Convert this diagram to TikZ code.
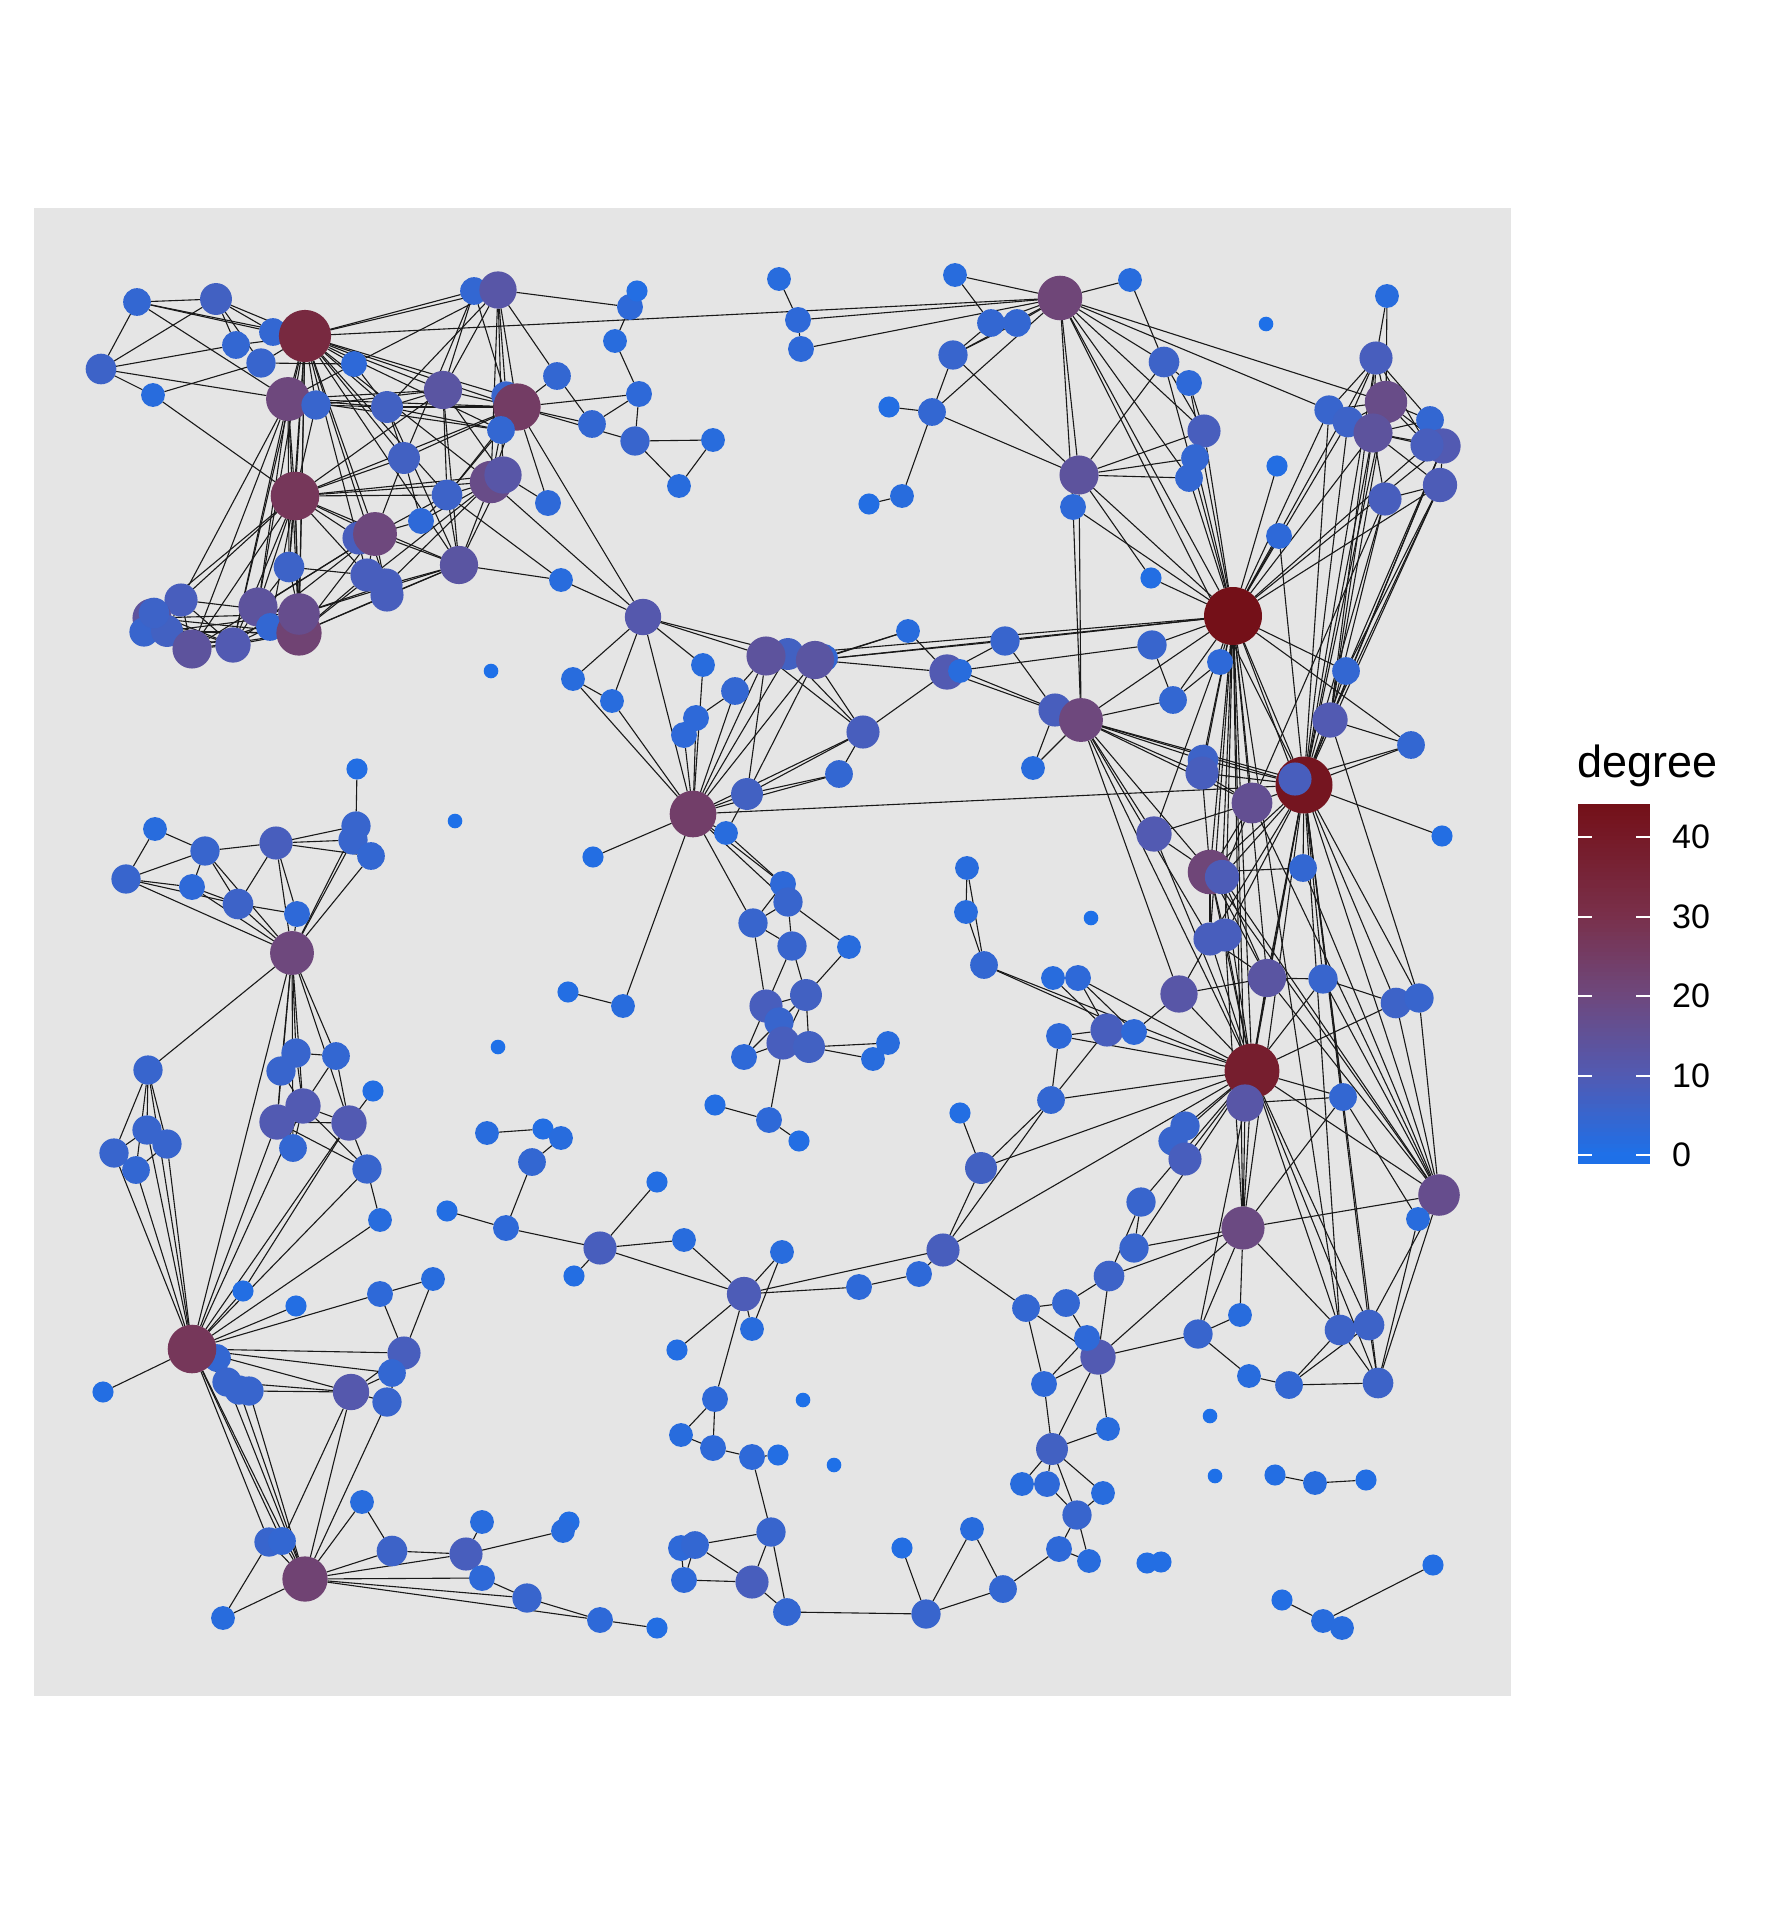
\documentclass[tikz,border=0pt]{standalone}
\usepackage{fontspec}
\setmainfont{Liberation Sans}
\pgfdeclarelayer{bg}
\pgfsetlayers{bg,main}
\definecolor{cz}{RGB}{30,112,232}
\definecolor{ca}{RGB}{82,90,178}
\definecolor{cb}{RGB}{110,72,125}
\definecolor{cc}{RGB}{121,48,75}
\definecolor{cd}{RGB}{116,16,24}
\definecolor{panel}{RGB}{229,229,229}
\newcommand\degcolor[1]{%
 \pgfmathsetmacro\dg{#1}%
 \ifdim\dg pt<10pt
   \pgfmathtruncatemacro\pc{max(0,10*\dg)}\colorlet{nc}{ca!\pc!cz}%
 \else\ifdim\dg pt<20pt
   \pgfmathtruncatemacro\pc{10*(\dg-10)}\colorlet{nc}{cb!\pc!ca}%
 \else\ifdim\dg pt<30pt
   \pgfmathtruncatemacro\pc{10*(\dg-20)}\colorlet{nc}{cc!\pc!cb}%
 \else
   \pgfmathtruncatemacro\pc{min(100,100*(\dg-30)/14)}\colorlet{nc}{cd!\pc!cc}%
 \fi\fi\fi}
\tikzset{
 vtx/.style={circle,draw=none,inner sep=0pt,outer sep=0pt},
 edge/.style={draw=black!90,line width=1.1pt},
 tick/.style={draw=white,line width=1.6pt},
 lab/.style={anchor=west,inner sep=0pt,font=\fontsize{34}{40}\selectfont}
}
\begin{document}
\begin{tikzpicture}[x=1pt,y=-1pt]
\useasboundingbox (0,0) rectangle (1766,1916);
\begin{pgfonlayer}{bg}
\fill[white] (0,0) rectangle (1766,1916);
\fill[panel] (34,208) rectangle (1511,1696);
\end{pgfonlayer}
% nodes
\foreach \nm/\xx/\yy/\dd in {
a1/137/302/4,a2/216/299/7,a3/101/369/6,a4/153/395/2,a5/236/345/4,a6/273/332/4,a7/261/363/5,h1/305/336/33,a8/354/364/3,a9/288/399/20,a10/316/405/5,a11/387/407/7,a12/443/390/13,a13/474/291/4,a14/498/290/12,a16/506/396/5,a15/517/407/25,a17/501/430/4,a18/404/458/7,h2/295/496/27,a19/447/495/6,a20/421/521/3,a21/491/482/18,a22/503/475/12,a24/359/538/8,a23/375/534/20,a25/289/567/6,a26/367/575/8,a27/386/585/8,a28/387/595/8,a29/459/565/13,a30/181/600/8,a32/152/618/14,a33/144/632/5,a34/167/631/7,a31/154/613/6,a35/192/649/14,a36/233/645/10,a37/258/607/14,a38/270/627/4,a40/299/633/22,a39/299/614/17,a41/491/671/0,
b2/630/307/3,b1/637/291/1,b3/615/341/2,b4/557/376/4,b5/639/394/3,b6/592/424/4,b7/635/441/5,b8/713/440/2,b9/679/486/2,b10/548/503/3,b11/561/580/2,b12/643/617/11,b13/573/679/2,b14/612/701/2,b15/703/665/2,b16/735/691/4,b20/824/658/4,b18/788/654/7,b17/766/656/14,b19/815/660/13,b21/908/631/2,b22/1005/641/5,b23/947/672/10,b24/960/671/2,b25/779/279/2,b26/798/320/3,b27/801/349/3,b28/955/275/2,b29/991/323/4,b30/1017/323/4,b31/953/355/5,b32/889/407/1,b33/932/412/4,b34/902/496/2,b35/869/504/1,
c1/1060/298/21,c2/1130/280/2,c4/1266/324/0,c5/1164/362/6,c6/1189/383/3,c7/1204/431/8,c8/1195/458/4,c9/1189/478/4,c10/1079/475/14,c11/1073/507/3,c12/1277/466/1,c13/1387/296/2,c14/1376/358/8,c16/1329/410/5,c17/1348/422/6,c15/1386/402/18,c18/1373/433/14,c19/1430/420/4,c20/1443/446/10,c21/1427/445/8,c22/1440/485/9,c23/1385/499/8,c24/1279/536/3,c25/1151/578/1,h3/1233/616/44,c26/1152/645/5,c27/1220/662/3,c28/1346/671/4,c29/1173/700/4,
d1/1055/710/8,d2/1081/720/20,d4/1033/768/2,d5/1203/760/6,d6/1202/773/8,d7/1252/803/16,h4/1304/785/42,d8/1295/779/8,d9/1330/720/10,d10/1411/745/4,d11/1442/836/1,d12/1154/834/10,d13/1210/872/21,d14/1222/877/9,d15/1303/868/4,d16/1091/918/0,d17/1210/939/8,d18/1225/935/8,d19/1053/978/2,d20/1078/978/3,d21/1267/978/13,d22/1323/979/5,d23/1179/994/12,d24/1396/1003/6,d25/1419/998/5,d26/1059/1036/3,d27/1107/1030/8,d28/1134/1032/3,h5/1252/1071/38,d29/1245/1103/12,d30/1051/1100/4,d31/1343/1097/4,d32/1185/1126/5,d33/1173/1141/5,d34/1185/1159/8,d35/1141/1202/5,d36/1439/1195/17,d37/1243/1228/19,e3/1418/1219/2,
e5/1134/1248/5,e6/1109/1276/6,e7/1026/1308/4,e8/1066/1303/4,e10/1098/1357/10,e9/1087/1338/3,e11/1044/1384/3,e12/1108/1429/2,e13/1052/1449/7,e14/1022/1484/2,e15/1047/1484/3,e16/1103/1493/2,e17/1077/1515/5,e18/1059/1549/3,e19/1089/1561/2,e21/1198/1334/5,e22/1240/1315/2,e23/1249/1376/2,e24/1289/1385/4,e25/1340/1330/6,e26/1369/1325/6,e27/1378/1383/6,e28/1210/1416/0,e29/1215/1476/0,e30/1275/1475/1,e31/1315/1483/2,e32/1366/1480/1,e33/1147/1563/1,e33b/1161/1562/1,e34/1282/1600/1,e35/1323/1621/2,e36/1342/1628/2,e37/1433/1565/1,
i2/696/718/3,i3/684/735/3,i5/863/732/8,i6/839/774/4,i7/747/794/7,h9/693/814/24,i8/726/833/2,i9/593/857/1,i10/783/884/3,i11/788/902/5,i12/753/923/5,i13/792/946/5,i14/849/947/2,i15/568/992/1,i16/623/1006/2,i17/806/995/7,i18/766/1006/8,i19/779/1022/5,i22/744/1057/3,i20/783/1043/8,i21/809/1047/7,i23/888/1043/2,i24/873/1059/2,i25/715/1105/1,i26/769/1120/3,i27/799/1141/1,i28/967/868/2,i29/966/912/2,i30/984/965/4,i31/960/1113/1,i32/981/1168/7,i34/657/1182/1,
k1/357/769/1,k2/356/826/5,k3/353/840/5,k4/371/856/4,k5/455/821/0,k6/155/829/2,k7/205/851/5,k8/276/843/8,k9/126/879/5,k10/192/887/3,k11/238/904/6,k12/297/914/3,h8/292/953/20,k13/498/1047/0,k14/148/1070/5,k16/281/1071/5,k15/296/1053/5,k17/336/1056/4,k18/373/1091/1,k20/277/1122/10,k19/303/1106/10,k21/349/1123/10,k22/293/1148/4,k23/367/1169/5,k24/114/1153/5,k25/167/1144/5,k26/147/1130/5,k27/136/1170/4,k29/487/1133/2,k31/543/1129/1,k32/561/1138/2,k30/532/1162/4,
g1/380/1220/2,g2/447/1211/1,g3/506/1228/3,g13/217/1358/4,h6/192/1349/27,g4/103/1392/1,g5/243/1291/1,g6/296/1306/1,g7/380/1294/3,g8/433/1279/2,g9/404/1353/8,g10/392/1373/4,g11/387/1402/5,g12/351/1392/11,g14/227/1382/5,g15/239/1390/5,g16/249/1391/5,h7/305/1579/22,g17/269/1542/5,g18/282/1541/4,g19/223/1618/2,g20/362/1502/2,g21/392/1551/6,g22/482/1522/2,g23/466/1554/8,g24/482/1578/3,
f1/600/1248/8,f2/574/1276/1,f3/684/1240/2,f4/744/1294/9,f5/782/1252/2,f6/677/1350/1,f7/752/1329/2,f8/859/1287/3,f9/919/1274/3,f10/943/1250/8,f11/715/1399/3,f12/681/1435/2,f13/713/1448/3,f14/752/1457/3,f15/778/1455/1,f16/803/1400/0,f17/834/1465/0,f18/771/1532/5,f19/681/1548/3,f19b/695/1545/4,f20/684/1580/3,f21/752/1582/8,f22/787/1612/4,f23/926/1614/5,f24/902/1548/1,f25/972/1529/2,f26/1003/1589/4,f27/569/1522/1,f27b/563/1531/2,f28/600/1620/3,f29/657/1628/1,f30/527/1598/5}{
 \degcolor{\dd}
 \pgfmathsetmacro\dm{2*(7.3+3.27*sqrt(\dd))}
 \node[vtx,fill=nc,minimum size=\dm pt] (\nm) at (\xx,\yy) {};
}
% edges
\begin{pgfonlayer}{bg}
\foreach \ea/\eb in {
a1/a2,a1/a3,a1/h1,a1/a9,a1/a6,a2/a3,a2/a5,a2/a6,a2/h1,a2/a7,a3/a4,a3/a5,a3/a9,a4/a7,a4/h2,a5/h1,a6/h1,a7/h1,a7/a8,
h1/a8,h1/a9,h1/a10,h1/a11,h1/a12,h1/a13,h1/a14,h1/a15,h1/a16,h1/a17,h1/h2,h1/a18,h1/a19,h1/a21,h1/a23,h1/a25,h1/a26,h1/a27,h1/a29,h1/a39,h1/a37,h1/a40,h1/c1,h1/a36,
a8/a14,a8/a9,a8/a11,a9/a10,a9/h2,a9/a11,a9/a15,a9/a30,a9/a35,a9/a36,a9/a37,a9/a12,a9/a17,a9/a25,a9/a40,
a10/a11,a10/h2,a10/a12,a11/a12,a11/a15,a11/a17,a11/a29,a11/a18,a11/a14,
a12/a13,a12/a14,a12/a15,a12/a19,a12/h2,a12/a29,a12/a22,a13/a14,a13/a18,a13/a16,
a14/a15,a14/a16,a14/a21,a14/a22,a14/b2,a14/b4,
a15/a16,a15/a17,a15/a18,a15/a19,a15/a21,a15/h2,a15/b4,a15/b5,a15/b6,a15/b7,a15/b10,a15/b12,
a17/a19,a17/a21,a18/h2,a18/a20,a18/a23,
h2/a19,h2/a21,h2/a23,h2/a24,h2/a25,h2/a26,h2/a30,h2/a35,h2/a37,h2/a39,h2/a40,h2/a31,h2/a29,h2/a36,h2/a22,h2/a38,
a19/a20,a19/a21,a19/a23,a19/b11,a19/a29,a20/a23,a20/a21,a21/a22,a21/a29,a21/a27,a21/b12,a21/a40,a22/a29,a22/b10,
a23/a24,a23/a26,a23/a29,a23/a37,a23/a40,a23/a35,a23/a36,a23/a28,a25/a26,a25/a37,a25/a39,a26/a40,a26/a27,
a27/a28,a27/a29,a27/a39,a28/a29,a28/a40,a29/a39,a29/a40,a29/b11,
a30/a35,a30/a36,a30/a39,a30/a31,a30/a33,a30/a34,a31/a36,a31/a35,a32/a36,a32/a39,a32/a40,a32/a35,a33/a36,a33/a40,a34/a39,a34/a40,
a35/a36,a35/a40,a35/a39,a36/a38,a36/a40,a36/a37,a37/a39,a37/a40,a38/a40,
b1/b2,b2/b3,b3/b5,b5/b7,b5/b6,b4/b6,b7/b8,b7/b9,b8/b9,b11/b12,b12/b13,b12/b14,b12/b17,b12/b15,b12/h9,b13/b14,b12/b18,
b17/b18,b17/b19,b18/b19,b19/b20,b17/b16,b17/h9,b18/h9,b19/h9,b16/h9,b15/h9,b14/h9,b17/i5,b18/i5,b19/i5,b19/b21,b20/b21,b19/b23,b19/b22,b21/b23,b22/b23,b23/d2,b24/d2,b23/i5,b22/h3,b19/h3,b17/i7,b19/i7,b22/d1,
b25/b26,b26/b27,b26/c1,b27/c1,b28/c1,b28/b29,b29/c1,b30/c1,b29/b31,b30/b31,b31/c1,b31/b33,b32/b33,b33/b34,b34/b35,b33/c1,b33/c10,b31/c10,
c1/c2,c1/c10,c1/c11,c1/c5,c1/c7,c1/c15,c1/c16,c1/h3,c1/h4,c1/c9,
c2/c5,c5/c10,c5/c7,c5/h3,c6/c7,c6/h3,c5/c6,c7/c10,c7/h3,c8/c10,c9/c10,c8/h3,c9/h3,c10/c11,c10/h3,c10/c25,c10/d2,c11/d2,c11/h3,c25/h3,c12/h3,
c13/c14,c13/c15,c14/c15,c14/c16,c14/c17,c14/c18,c14/c19,c14/c21,c15/c16,c15/c17,c15/c18,c15/c19,c15/c20,c15/c21,c18/c19,c18/c21,c18/c20,c18/c23,c18/c22,c22/c23,c22/c20,c19/c20,
c16/h3,c17/h3,c18/h3,c14/h3,c20/h3,c21/h3,c22/h3,
c24/h3,c24/h4,c18/h4,c14/h4,c15/h4,c16/h4,c17/h4,c22/h4,c20/h4,c23/h4,c23/d7,c22/d9,c20/d9,c14/d9,c15/d9,c18/d9,c23/d9,
h3/c26,h3/c27,h3/c28,h3/c29,h3/h4,h3/d5,h3/d6,h3/d7,h3/d8,h3/d13,h3/d14,h3/d17,h3/d21,h3/h5,h3/d29,h3/d37,h3/d2,h3/d12,h3/e25,h3/d18,h3/b17,h3/d10,
c26/c29,c26/b23,c27/c29,c28/c22,c28/c20,c28/h4,c29/d2,
d1/d2,d1/d4,d2/d4,d2/h4,d2/d5,d2/d6,d2/d7,d2/d8,d2/d12,d2/d13,d2/h5,d2/d23,d2/d17,
d5/d6,d5/h4,d6/h4,d6/d7,d6/d13,d7/h4,d7/d12,d7/d13,d7/d14,d8/h4,d9/h4,d9/d10,d8/d10,d10/h4,d11/h4,d12/d13,d12/h5,d13/d15,d13/d17,d13/d18,d13/h5,d14/h5,d14/d21,d13/d21,
h4/d13,h4/d14,h4/d15,h4/d17,h4/d18,h4/d21,h4/h5,h4/d29,h4/d36,h4/d24,h4/e26,h4/e27,h4/e25,h4/d22,h4/d31,h4/h9,h4/d37,h4/d25,
d15/d36,d7/d36,d13/d36,d14/d36,d21/d36,d9/d25,
d17/d18,d17/d21,d17/d23,d17/h5,d18/h5,d18/d37,d19/d20,d20/d28,d20/h5,d19/d27,i30/h5,i30/d28,
d21/d22,d21/d23,d21/h5,d22/d24,d22/h5,d24/d25,d24/d36,d25/d36,d23/d28,d23/h5,d24/h5,
d26/d27,d26/d30,d26/h5,d27/d28,d27/d30,d27/d20,d30/h5,d30/f10,
h5/d29,h5/d31,h5/d32,h5/d33,h5/d34,h5/d35,h5/d36,h5/d37,h5/e5,h5/e21,h5/e25,h5/e26,h5/e27,h5/i32,h5/f10,h5/d28,
d29/d31,d29/d37,d31/d37,d32/d33,d33/d34,d36/d37,d36/e3,d36/e26,d36/e27,d22/d36,d31/e3,
d35/e5,d35/e6,e5/d37,e6/d37,e6/e8,e6/e10,e7/e8,e7/e10,e7/e11,e7/f10,e8/e9,e9/e10,e10/e11,e9/e11,e10/d37,e10/e21,e10/e12,e10/e13,e11/e13,
e13/e14,e13/e15,e13/e16,e13/e17,e13/e12,e15/e17,e16/e17,e17/e18,e17/e19,e18/e19,e18/f26,
e21/e22,e21/e23,e21/d37,e22/d37,e23/e24,e24/e25,e24/e26,e24/e27,e25/e27,e26/e27,e25/d37,e27/e3,e30/e31,e31/e32,e33/e33b,e34/e35,e35/e37,e35/e36,
h9/i2,h9/i3,h9/i7,h9/i5,h9/i6,h9/i8,h9/i9,h9/i16,h9/i12,h9/i10,h9/i11,h9/b13,i2/b16,i2/i3,
i7/i8,i7/i5,i7/i6,i5/i6,i8/i10,i10/i11,i10/i12,i11/i12,i11/i13,i11/i14,i12/i13,i12/i18,i13/i17,i13/i18,i14/i17,i17/i18,i17/i20,i17/i21,
i18/i19,i18/i22,i19/i20,i19/i22,i20/i21,i20/i26,i21/i23,i21/i24,i20/i22,i17/i19,i15/i16,i25/i26,i26/i27,
i28/i29,i29/i30,i28/i30,i31/i32,i32/d30,i32/f10,i34/f1,
k1/k2,k2/k8,k3/k8,k4/k8,k2/h8,k3/h8,k4/h8,k2/k3,k6/k7,k6/k9,k7/k8,k7/k9,k7/k10,k7/k11,k7/h8,
k9/k10,k9/k11,k9/h8,k10/k11,k10/h8,k8/k11,k8/k12,k8/h8,k11/k12,k11/h8,k12/h8,
h8/k14,h8/k15,h8/k16,h8/k19,h8/k20,h8/k17,h8/k21,h8/h6,h8/k22,
k14/k24,k14/k26,k14/k25,k14/k27,k14/h6,k15/k17,k15/k16,k15/k19,k16/k19,k16/k20,k17/k21,k17/k19,
k19/k21,k19/k20,k19/k22,k19/k23,k20/k21,k20/k22,k20/k23,k21/k18,k21/k23,k23/g1,k23/h6,k21/h6,k20/h6,k19/h6,
k24/k26,k24/k27,k25/k26,k25/k27,k24/h6,k25/h6,k26/h6,k27/h6,k29/k31,k30/k32,k30/g3,
h6/g4,h6/g1,h6/g5,h6/g6,h6/g7,h6/g9,h6/g10,h6/g12,h6/g13,h6/g14,h6/g15,h6/g16,h6/h7,h6/g17,h6/g18,
g5/k21,g7/g8,g7/g9,g8/g9,g12/g9,g12/g10,g12/g11,g12/g14,g12/g16,g11/g9,g11/h7,g12/h7,g12/g18,g14/h7,g15/h7,g16/h7,
h7/g17,h7/g18,h7/g19,h7/g20,h7/g21,h7/g23,h7/g24,h7/f30,h7/f28,g20/g21,g21/g23,g22/g23,g24/f30,g17/g19,g2/g3,g3/f1,
f1/f2,f1/f3,f1/f4,f3/f4,f4/f5,f4/f7,f5/f7,f4/f6,f4/f11,f4/f8,f4/f10,f8/f9,f9/f10,
f11/f12,f11/f13,f12/f13,f13/f14,f14/f15,f14/f18,f18/f21,f18/f19b,f18/f22,f19/f19b,f19/f20,f19b/f20,f19b/f21,f20/f21,f21/f22,
f22/f23,f23/f24,f23/f25,f23/f26,f25/f26,f27/f27b,f27b/g23,f28/f30,f28/f29}{
 \draw[edge] (\ea) -- (\eb);
}
\end{pgfonlayer}
% legend
\node[anchor=base west,inner sep=0pt,font=\fontsize{45}{54}\selectfont] (ttl) at (1577,777) {degree};
\foreach \i in {0,...,89}{
 \pgfmathsetmacro\yb{1164-4*\i}
 \pgfmathsetmacro\dval{(1155-(\yb-2))/7.95}
 \degcolor{\dval}
 \fill[nc] (1578,\yb) rectangle (1650,{\yb-4.4});
}
\foreach \v/\yt in {40/837,30/917,20/996,10/1076,0/1155}{
 \draw[tick] (1578,\yt) -- (1592,\yt);
 \draw[tick] (1636,\yt) -- (1650,\yt);
 \node[lab] (l\v) at (1672,\yt) {\v};
}
\end{tikzpicture}
\end{document}
